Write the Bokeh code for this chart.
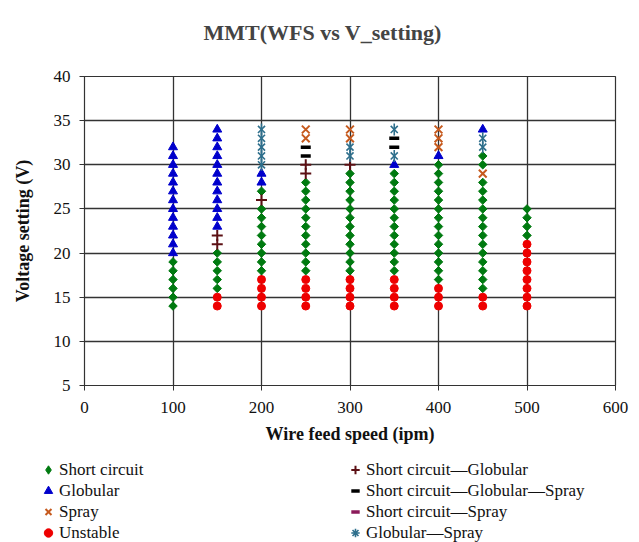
import math
from bokeh.plotting import figure
from bokeh.layouts import column
from bokeh.models import Legend, LegendItem, Range1d, FixedTicker, ColumnDataSource, Title
from bokeh.embed import file_html
from bokeh.resources import INLINE

# ---- data: wire feed speed (ipm) columns and the voltage settings (V) of each mode ----
sc_wfs = [100, 150, 200, 250, 300, 350, 400, 450, 500]
sc_volts = [
    [14, 15, 16, 17, 18, 19],
    [16, 17, 18, 19, 20],
    [18, 19, 20, 21, 22, 23, 24, 25, 27],
    [18, 19, 20, 21, 22, 23, 24, 25, 26, 27, 28],
    [18, 19, 20, 21, 22, 23, 24, 25, 26, 27, 28, 29],
    [18, 19, 20, 21, 22, 23, 24, 25, 26, 27, 28, 29],
    [17, 18, 19, 20, 21, 22, 23, 24, 25, 26, 27, 28, 29, 30],
    [16, 17, 18, 19, 20, 21, 22, 23, 24, 25, 26, 27, 28, 30, 31],
    [22, 23, 24, 25],
]

glob_wfs = [100, 150, 200, 350, 400, 450]
glob_volts = [
    [20, 21, 22, 23, 24, 25, 26, 27, 28, 29, 30, 31, 32],
    [23, 24, 25, 26, 27, 28, 29, 30, 31, 32, 33, 34],
    [28, 29],
    [30],
    [31],
    [34],
]

spray_wfs = [250, 300, 400, 450]
spray_volts = [[33, 34], [33, 34], [32, 33, 34], [29]]

unst_wfs = [150, 200, 250, 300, 350, 400, 450, 500]
unst_volts = [
    [14, 15],
    [14, 15, 16, 17],
    [14, 15, 16, 17],
    [14, 15, 16, 17],
    [14, 15, 16, 17],
    [14, 15, 16],
    [14, 15],
    [14, 15, 16, 17, 18, 19, 20, 21],
]

scg_wfs = [150, 200, 250, 300]
scg_volts = [[21, 22], [26], [29, 30], [30]]

scgs_wfs = [250, 350]
scgs_volts = [[31, 32], [32, 33]]

scs_wfs = []
scs_volts = []

gs_wfs = [200, 300, 350, 450]
gs_volts = [[30, 31, 32, 33, 34], [31, 32], [31, 34], [32, 33]]

x_ticks = [0, 100, 200, 300, 400, 500, 600]
y_ticks = [5, 10, 15, 20, 25, 30, 35, 40]

left_labels = ["Short circuit", "Globular", "Spray", "Unstable"]
right_labels = ["Short circuit\u2014Globular", "Short circuit\u2014Globular\u2014Spray",
                "Short circuit\u2014Spray", "Globular\u2014Spray"]


def flat(wfs, volts):
    xs, ys = [], []
    for w, vs in zip(wfs, volts):
        for v in vs:
            xs.append(w)
            ys.append(v)
    return ColumnDataSource(dict(x=xs, y=ys))


SERIF = "Liberation Serif"

STYLES = {
    "sc": dict(marker="square", angle=math.pi / 4, size=6, fill_color="#007A10", line_color="#007A10"),
    "gl": dict(marker="triangle", size=9, fill_color="#0000CC", line_color="#0000CC"),
    "sp": dict(marker="x", size=11, line_color="#C65A1E", line_width=2),
    "un": dict(marker="circle", size=8, fill_color="#EE0000", line_color="#EE0000"),
    "scg": dict(marker="cross", size=11, line_color="#5C1014", line_width=2),
    "scgs": dict(marker="dash", size=10, line_color="#000000", line_width=3.5),
    "scs": dict(marker="dash", size=7, line_color="#8B1A5A", line_width=3.5),
    "gs1": dict(marker="x", size=10, line_color="#2E6F8C", line_width=1.6),
    "gs2": dict(marker="dash", angle=math.pi / 2, size=12, line_color="#2E6F8C", line_width=1.6),
}

# legend swatches (legend glyphs are drawn unrotated, so use equivalent shapes)
LEGEND_STYLES = dict(STYLES)
LEGEND_STYLES["sc"] = dict(marker="diamond", fill_color="#007A10", line_color="#007A10")
LEGEND_STYLES["gs"] = dict(marker="asterisk", line_color="#2E6F8C", line_width=1.6)
LEGEND_STYLES["scs"] = dict(marker="dash", line_color="#8B1A5A", line_width=3.5)
LEGEND_STYLES["scgs"] = dict(marker="dash", line_color="#000000", line_width=3.5)
del LEGEND_STYLES["gs1"], LEGEND_STYLES["gs2"]

SOURCES = {
    "sc": flat(sc_wfs, sc_volts),
    "gl": flat(glob_wfs, glob_volts),
    "sp": flat(spray_wfs, spray_volts),
    "un": flat(unst_wfs, unst_volts),
    "scg": flat(scg_wfs, scg_volts),
    "scgs": flat(scgs_wfs, scgs_volts),
    "scs": flat(scs_wfs, scs_volts),
}
SOURCES["gs1"] = SOURCES["gs2"] = flat(gs_wfs, gs_volts)

p = figure(width=639, height=455, output_backend="svg", toolbar_location=None,
           x_range=Range1d(0, 600), y_range=Range1d(5, 40),
           min_border_left=84, min_border_right=24, min_border_top=76, min_border_bottom=70)

# small spacer between the title and the plot area
p.add_layout(Title(text=" ", text_font_size="1px", standoff=8), "above")

p.title.text = "MMT(WFS vs V_setting)"
p.title.text_font = SERIF
p.title.text_font_size = "22px"
p.title.text_font_style = "bold"
p.title.align = "left"
p.title.offset = 119
p.title.vertical_align = "top"
p.title.standoff = 38

p.outline_line_color = "#333333"
p.outline_line_width = 1.2
for g in (p.xgrid[0], p.ygrid[0]):
    g.grid_line_color = "#333333"
    g.grid_line_width = 1.3

p.xaxis.ticker = FixedTicker(ticks=x_ticks)
p.yaxis.ticker = FixedTicker(ticks=y_ticks)
for ax in (p.xaxis[0], p.yaxis[0]):
    ax.axis_line_color = "#333333"
    ax.major_tick_line_color = "#333333"
    ax.major_tick_in = 0
    ax.major_tick_out = 5
    ax.minor_tick_line_color = None
    ax.major_label_text_font = SERIF
    ax.major_label_text_font_size = "17px"
    ax.major_label_text_color = "#111111"
    ax.axis_label_text_font = SERIF
    ax.axis_label_text_font_size = "18px"
    ax.axis_label_text_font_style = "bold"
    ax.axis_label_text_color = "#111111"
p.xaxis.axis_label = "Wire feed speed (ipm)"
p.yaxis.axis_label = "Voltage setting (V)"
p.xaxis.major_label_standoff = 11
p.yaxis.major_label_standoff = 9
p.xaxis.axis_label_standoff = 8
p.yaxis.axis_label_standoff = 18

for k in ["sc", "gl", "sp", "un", "scg", "scgs", "scs", "gs1", "gs2"]:
    p.scatter("x", "y", source=SOURCES[k], **STYLES[k])

# ---- legend panel below the chart ----
q = figure(width=639, height=87, output_backend="svg", toolbar_location=None,
           x_range=Range1d(0, 1), y_range=Range1d(0, 1),
           min_border_left=0, min_border_right=0, min_border_top=0, min_border_bottom=0)
if "frame_align" in q.properties():
    q.frame_align = False
q.axis.visible = False
q.grid.visible = False
q.outline_line_color = None

lr = {}
for k, st in LEGEND_STYLES.items():
    swatch = ColumnDataSource(dict(x=[float("nan")], y=[float("nan")]))
    lr[k] = q.scatter("x", "y", source=swatch, **st)

left_items = [
    LegendItem(label=left_labels[0], renderers=[lr["sc"]]),
    LegendItem(label=left_labels[1], renderers=[lr["gl"]]),
    LegendItem(label=left_labels[2], renderers=[lr["sp"]]),
    LegendItem(label=left_labels[3], renderers=[lr["un"]]),
]
right_items = [
    LegendItem(label=right_labels[0], renderers=[lr["scg"]]),
    LegendItem(label=right_labels[1], renderers=[lr["scgs"]]),
    LegendItem(label=right_labels[2], renderers=[lr["scs"]]),
    LegendItem(label=right_labels[3], renderers=[lr["gs"]]),
]


def mk_legend(items, x):
    return Legend(items=items, location=(x, -1), orientation="vertical",
                  glyph_width=22, glyph_height=21, label_height=21, spacing=0,
                  padding=0, margin=0, label_standoff=0,
                  border_line_color=None, background_fill_alpha=0,
                  label_text_font=SERIF, label_text_font_size="17px",
                  label_text_color="#111111")


q.add_layout(mk_legend(left_items, 37))
q.add_layout(mk_legend(right_items, 344))

layout = column(p, q, spacing=0)
open("out.html", "w").write(file_html(layout, INLINE))
